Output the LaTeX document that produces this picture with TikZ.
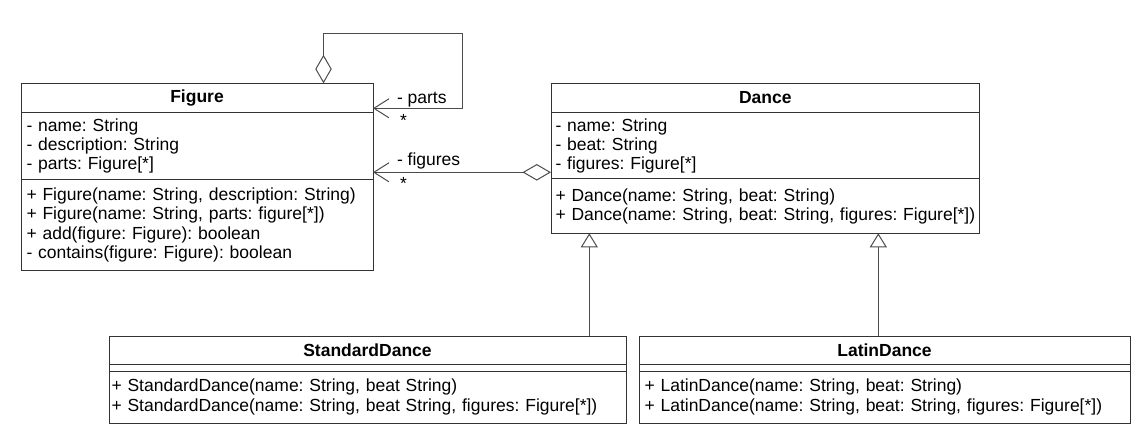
\documentclass[tikz,border=0pt]{standalone}
\usepackage{fontspec}
\setmainfont{Liberation Sans}
\usetikzlibrary{arrows.meta,calc}
\tikzset{
  txtfont/.style={font=\fontsize{17.5}{19.3}\selectfont},
  comp/.style={draw=black!80, line width=1pt, anchor=north west, inner sep=0pt, outer sep=0pt, txtfont},
  ctitle/.style={comp, font=\fontsize{17.5}{19.3}\selectfont\bfseries},
  clist/.style={comp, align=left, inner xsep=5.5pt},
  lbl/.style={inner sep=0pt, outer sep=0pt, txtfont},
  assoc/.style={draw=black!70, line width=1pt, {Diamond[open,length=28.5pt,width=16.5pt]}-{Straight Barb[length=15pt,width=19pt]}},
  gen/.style={draw=black!70, line width=1pt, -{Triangle[open,length=14pt,width=17pt]}}
}
\begin{document}
\frenchspacing
\hyphenpenalty=10000
\begin{tikzpicture}[x=1pt,y=-1pt]
\useasboundingbox (0,0) rectangle (1147,443);
% Figure
\node[ctitle, minimum width=352pt, minimum height=29.4pt] (figT) at (21,83.3) {Figure};
\node[clist, minimum width=352pt, minimum height=66.6pt, text width=341pt] (figA) at (figT.south west)
  {- name: String\\- description: String\\- parts: Figure[*]};
\node[clist, minimum width=352pt, minimum height=91.4pt, text width=341pt] (figM) at (figA.south west)
  {+ Figure(name: String, description: String)\\+ Figure(name: String, parts: figure[*])\\+ add(figure: Figure): boolean\\- contains(figure: Figure): boolean};
% Dance
\node[ctitle, minimum width=428.5pt, minimum height=29.4pt] (danT) at (551,83.3) {Dance};
\node[clist, inner xsep=4.5pt, minimum width=428.5pt, minimum height=66.3pt, text width=419.5pt] (danA) at (danT.south west)
  {- name: String\\- beat: String\\- figures: Figure[*]};
\node[clist, inner xsep=4.5pt, minimum width=428.5pt, minimum height=54.3pt, text width=419.5pt] (danM) at (danA.south west)
  {+ Dance(name: String, beat: String)\\\mbox{+ Dance(name: String, beat: String, figures: Figure[*])}};
% StandardDance
\node[ctitle, minimum width=517pt, minimum height=28.3pt] (sdT) at (109,336) {StandardDance};
\node[comp, minimum width=517pt, minimum height=6.7pt] (sdA) at (sdT.south west) {};
\node[clist, inner xsep=2.5pt, minimum width=517pt, minimum height=52pt, text width=512pt] (sdM) at (sdA.south west)
  {+ StandardDance(name: String, beat String)\\\mbox{+ StandardDance(name: String, beat String, figures: Figure[*])}};
% LatinDance
\node[ctitle, minimum width=491pt, minimum height=28.3pt] (ldT) at (639,336) {LatinDance};
\node[comp, minimum width=491pt, minimum height=6.7pt] (ldA) at (ldT.south west) {};
\node[clist, minimum width=491pt, minimum height=52pt, text width=480pt] (ldM) at (ldA.south west)
  {+ LatinDance(name: String, beat: String)\\\mbox{+ LatinDance(name: String, beat: String, figures: Figure[*])}};
% self aggregation parts
\coordinate (figTop) at ($(figT.north west)+(302.5,0)$);
\coordinate (loopA) at (462.3,33.3);
\coordinate (partsEnd) at ($(figT.south east)+(0,-4.4)$);
\draw[assoc] (figTop) |- (loopA) |- (partsEnd);
\node[lbl, anchor=base west] (pl) at ($(partsEnd)+(24,-4.3)$) {- parts};
\node[lbl, anchor=base west] (ps) at ($(partsEnd)+(27,18.7)$) {*};
% figures aggregation
\coordinate (dIn) at ($(danA.south west)+(0,-6.7)$);
\coordinate (figEnd) at (dIn -| figA.east);
\draw[assoc] (dIn) -- (figEnd);
\node[lbl, anchor=base west] (fl) at ($(figEnd)+(24,-6.3)$) {- figures};
\node[lbl, anchor=base west] (fs) at ($(figEnd)+(27,17.3)$) {*};
% generalizations
\coordinate (sdTop) at ($(sdT.north west)+(480.3,0)$);
\draw[gen] (sdTop) -- (sdTop |- danM.south);
\coordinate (ldTop) at ($(ldT.north west)+(239.3,0)$);
\draw[gen] (ldTop) -- (ldTop |- danM.south);
\end{tikzpicture}
\end{document}
